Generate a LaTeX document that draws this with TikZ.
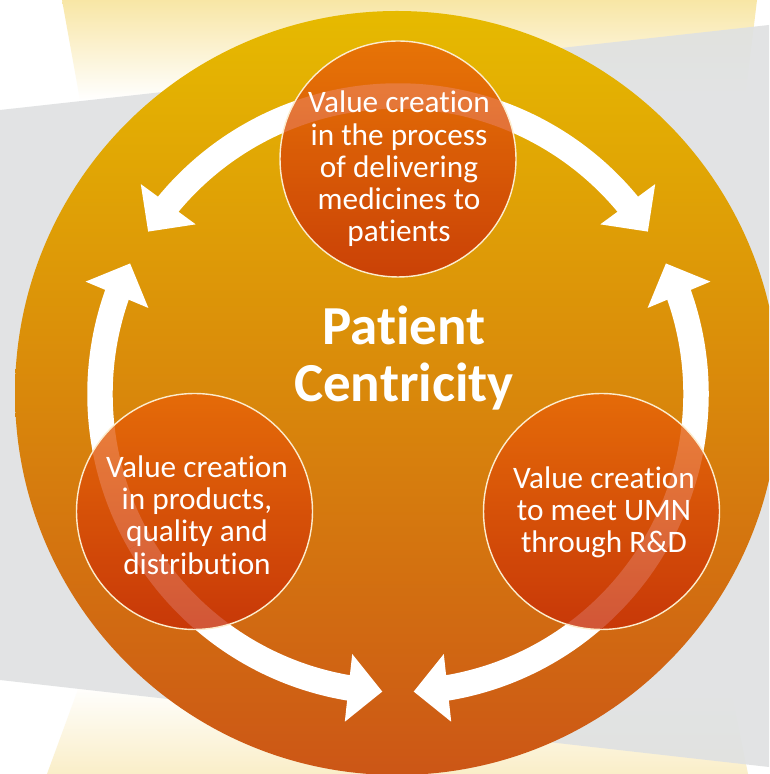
\documentclass[tikz,border=0pt]{standalone}
\usepackage{fontspec}
\setmainfont{Carlito}[Ligatures=NoCommon]
\usetikzlibrary{arrows.meta,bending}

\definecolor{paleTop}{RGB}{248,230,165}
\definecolor{paleBot}{RGB}{250,238,200}
\definecolor{band}{RGB}{223,225,226}
\definecolor{goldTop}{RGB}{230,186,0}
\definecolor{goldMid}{RGB}{220,142,12}
\definecolor{goldBot}{RGB}{204,86,22}
\definecolor{redTop}{RGB}{232,100,8}
\definecolor{redBot}{RGB}{198,44,6}
\definecolor{rim}{RGB}{252,236,205}

\begin{document}
\begin{tikzpicture}[x=0.02cm, y=0.02cm,
    bubble/.style={circle, minimum size=4.72cm, inner sep=0pt,
        top color=redTop, bottom color=redBot, fill opacity=0.8,
        draw=rim, line width=0.8pt},
    vtext/.style={text=white, align=center, font=\fontsize{17.8}{18.4}\selectfont},
    arw/.style={white, line width=14.5pt, -{Triangle[width=37.6pt, length=19.4pt]}}]
    \useasboundingbox (0,0) rectangle (769,774);
    \clip (0,0) rectangle (769,774);
    % Tło
    \fill[white] (0,0) rectangle (769,774);
    \shade[top color=paleTop, bottom color=white]
        (62,774) -- (757,774) -- (745,674) -- (80,674) -- cycle;
    \shade[top color=white, bottom color=paleBot]
        (80,90) -- (730,90) -- (748,0) -- (47,0) -- cycle;
    \fill[band, fill opacity=0.9] (0,664) -- (769,749) -- (769,7) -- (0,94) -- cycle;
    % Duże koło
    \shade[top color=goldTop, middle color=goldMid, bottom color=goldBot]
        (397,381) circle[radius=382];
    % Strzałki
    \coordinate (aTop) at (398,678);
    \coordinate (aLeft) at (139.9,231);
    \coordinate (aRight) at (656.1,231);
    \draw[arw] (aTop) arc[start angle=90, end angle=147, radius=298];
    \draw[arw] (aTop) arc[start angle=90, end angle=33, radius=298];
    \draw[arw] (aLeft) arc[start angle=210, end angle=154, radius=298];
    \draw[arw] (aLeft) arc[start angle=210, end angle=267, radius=298];
    \draw[arw] (aRight) arc[start angle=330, end angle=386, radius=298];
    \draw[arw] (aRight) arc[start angle=330, end angle=273, radius=298];
    % Małe koła
    \node[bubble] (deliver) at (398,615) {};
    \node[bubble] (products) at (194.5,262.5) {};
    \node[bubble] (rnd) at (601.5,262.5) {};
    % Opisy
    \node[vtext] (deliverText) at (399,605)
        {Value creation\\in the process\\of delivering\\medicines to\\patients};
    \node[vtext] (productsText) at (197,259)
        {Value creation\\in products,\\quality and\\distribution};
    \node[vtext] (rndText) at (604,261.5)
        {Value creation\\to meet UMN\\through R\&D};
    \node[text=white, align=center, font=\bfseries\fontsize{31.3}{32.4}\selectfont]
        (centre) at (404,416) {Patient\\Centricity};
\end{tikzpicture}
\end{document}
